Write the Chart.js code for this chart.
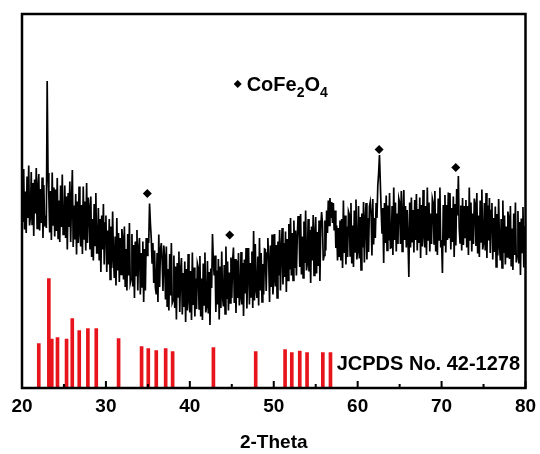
<!DOCTYPE html>
<html>
<head>
<meta charset="utf-8">
<script src="https://cdn.jsdelivr.net/npm/chart.js@4.4.1/dist/chart.umd.min.js"></script>
<style>
    html, body { margin: 0; padding: 0; background: #fff; }
    #wrap { width: 540px; height: 454px; }
</style>
</head>
<body>
<div id="wrap"><canvas id="xrd"></canvas></div>
<script>
// XRD scan, 2-theta from 20 to 80 deg, one reading every 0.1 deg
const scanStart = 20;
const scanStep = 0.1;
const intensity = [
    415, 332, 438, 317, 393, 310, 423, 340, 445, 325, // 20
    342, 432, 327, 410, 304, 417, 349, 440, 319, 402, // 21
    428, 315, 398, 330, 421, 300, 406, 323, 345, 320, // 22
    614, 430, 385, 311, 394, 296, 431, 326, 401, 303, // 23
    397, 314, 420, 299, 375, 292, 405, 322, 427, 307, // 24
    315, 405, 300, 383, 277, 390, 322, 413, 292, 375, // 25
    436, 282, 365, 297, 388, 267, 373, 290, 403, 312, // 26
    283, 366, 268, 403, 298, 373, 275, 410, 290, 381, // 27
    360, 277, 383, 262, 338, 255, 368, 285, 390, 270, // 28
    270, 360, 255, 338, 232, 345, 277, 368, 247, 330, // 29
    345, 232, 315, 247, 338, 217, 323, 240, 353, 262, // 30
    220, 303, 205, 340, 235, 310, 212, 300, 227, 318, // 31
    300, 217, 323, 202, 278, 195, 308, 225, 330, 210, // 32
    218, 308, 203, 286, 180, 293, 225, 316, 195, 278, // 33
    300, 187, 270, 202, 293, 172, 278, 195, 300, 265, // 34
    300, 290, 369, 330, 300, 250, 290, 210, 275, 200, // 35
    187, 270, 172, 307, 202, 277, 290, 255, 194, 285, // 36
    260, 177, 283, 162, 238, 155, 268, 185, 290, 170, // 37
    175, 265, 160, 243, 137, 250, 182, 273, 152, 235, // 38
    260, 147, 230, 162, 253, 132, 238, 155, 268, 177, // 39
    151, 234, 136, 271, 166, 241, 143, 219, 158, 249, // 40
    241, 158, 264, 143, 219, 136, 249, 166, 271, 151, // 41
    164, 254, 149, 232, 126, 239, 200, 308, 255, 225, // 42
    265, 152, 235, 167, 258, 137, 243, 160, 273, 182, // 43
    163, 246, 148, 283, 178, 253, 155, 231, 170, 261, // 44
    180, 255, 281, 170, 258, 150, 255, 180, 270, 165, // 45
    182, 272, 167, 250, 144, 257, 189, 280, 159, 242, // 46
    280, 167, 250, 182, 273, 160, 314, 175, 288, 197, // 47
    180, 263, 165, 300, 195, 270, 172, 248, 187, 278, // 48
    277, 194, 270, 300, 255, 172, 285, 202, 307, 187, // 49
    218, 308, 203, 286, 180, 293, 225, 316, 195, 278, // 50
    320, 207, 290, 222, 313, 192, 298, 215, 328, 237, // 51
    340, 225, 310, 215, 335, 240, 315, 225, 300, 344, // 52
    325, 242, 348, 227, 303, 220, 333, 250, 355, 235, // 53
    248, 338, 233, 316, 210, 323, 255, 346, 225, 308, // 54
    342, 229, 312, 244, 335, 214, 320, 352, 330, 255, // 55
    265, 335, 275, 355, 310, 375, 325, 380, 340, 372, // 56
    330, 370, 315, 355, 280, 325, 255, 320, 262, 335, // 57
    255, 338, 240, 375, 270, 345, 247, 323, 262, 353, // 58
    347, 264, 370, 249, 325, 242, 355, 272, 377, 257, // 59
    274, 364, 259, 342, 236, 349, 281, 372, 251, 334, // 60
    370, 257, 340, 272, 363, 372, 348, 265, 378, 287, // 61
    340, 300, 370, 340, 405, 430, 466, 410, 355, 310, // 62
    360, 250, 370, 290, 385, 275, 365, 295, 390, 280, // 63
    281, 364, 266, 401, 296, 371, 273, 349, 288, 379, // 64
    371, 288, 394, 273, 349, 396, 296, 364, 281, 356, // 65
    296, 222, 371, 281, 381, 291, 356, 271, 376, 296, // 66
    388, 275, 358, 290, 381, 260, 366, 283, 396, 305, // 67
    281, 364, 266, 401, 296, 371, 273, 349, 288, 379, // 68
    371, 288, 394, 273, 349, 266, 379, 296, 401, 281, // 69
    296, 230, 366, 286, 386, 271, 366, 296, 391, 301, // 70
    390, 277, 360, 292, 383, 262, 368, 285, 398, 345, // 71
    424, 320, 290, 365, 275, 380, 286, 364, 301, 376, // 72
    281, 364, 266, 401, 296, 371, 273, 349, 288, 379, // 73
    367, 284, 390, 269, 345, 262, 375, 292, 397, 277, // 74
    290, 370, 275, 390, 260, 365, 295, 380, 270, 355, // 75
    370, 257, 340, 272, 363, 242, 348, 265, 378, 287, // 76
    255, 338, 240, 375, 270, 345, 247, 323, 262, 353, // 77
    341, 258, 364, 243, 319, 236, 349, 266, 371, 251, // 78
    264, 354, 249, 332, 226, 339, 271, 362, 241, 324, // 79
    290 // 80
];

// JCPDS No. 42-1278 reference lines
const refPos = [22.0, 23.2, 23.55, 24.23, 25.31, 25.99, 26.82, 27.85, 28.85, 31.51,
    34.25, 35.05, 36.0, 37.12, 37.95, 42.81, 47.85, 51.35, 52.15, 53.1, 53.97, 55.85, 56.76];
const refInt = [89, 219, 98, 101, 98, 139, 115, 119, 119, 99,
    83, 79, 75, 79, 73, 81, 73, 77, 71, 74, 71, 71, 71];

// CoFe2O4 peak markers
const markPos = [34.93, 44.75, 62.56, 71.69];
const markInt = [389, 306, 477, 441];

const xTicks = [20, 30, 40, 50, 60, 70, 80];
const minorTicks = [25, 35, 45, 55, 65, 75];

const FONT = "'Liberation Sans', Arial, Helvetica, sans-serif";

const scan = intensity.map((v, i) => ({ x: +(scanStart + i * scanStep).toFixed(1), y: v }));
const refBars = refPos.map((x, i) => ({ x: x, y: refInt[i] }));
const marks = markPos.map((x, i) => ({ x: x, y: markInt[i] }));

// frame, inward ticks and text labels
const framePlugin = {
    id: "frame",
    afterDraw(chart) {
        const ctx = chart.ctx;
        const a = chart.chartArea;
        const xs = chart.scales.x;
        ctx.save();
        ctx.strokeStyle = "#000";
        ctx.lineWidth = 2;
        ctx.beginPath();
        xTicks.forEach((v) => {
            const px = xs.getPixelForValue(v);
            ctx.moveTo(px, a.bottom);
            ctx.lineTo(px, a.bottom - 7);
        });
        minorTicks.forEach((v) => {
            const px = xs.getPixelForValue(v);
            ctx.moveTo(px, a.bottom);
            ctx.lineTo(px, a.bottom - 4);
        });
        ctx.stroke();
        ctx.lineWidth = 2.5;
        ctx.strokeRect(a.left, a.top, a.right - a.left, a.bottom - a.top);

        // legend for the marker
        const lx = xs.getPixelForValue(45.7);
        const ly = chart.scales.y.getPixelForValue(608);
        ctx.fillStyle = "#000";
        ctx.beginPath();
        ctx.moveTo(lx, ly - 4);
        ctx.lineTo(lx + 4, ly);
        ctx.lineTo(lx, ly + 4);
        ctx.lineTo(lx - 4, ly);
        ctx.closePath();
        ctx.fill();

        ctx.textBaseline = "alphabetic";
        ctx.textAlign = "left";
        let tx = lx + 9;
        const base = ly + 7;
        const parts = [["CoFe", 20, 0], ["2", 14, 6], ["O", 20, 0], ["4", 14, 6]];
        parts.forEach((p) => {
            ctx.font = "bold " + p[1] + "px " + FONT;
            ctx.fillText(p[0], tx, base + p[2]);
            tx += ctx.measureText(p[0]).width;
        });

        ctx.font = "bold 20px " + FONT;
        ctx.fillText("JCPDS No. 42-1278", xs.getPixelForValue(57.5), a.bottom - 18);
        ctx.restore();
    },
};

const ctx = document.getElementById("xrd").getContext("2d");
new Chart(ctx, {
    type: "line",
    data: {
        datasets: [
            {
                type: "line",
                data: scan,
                borderColor: "#000",
                borderWidth: 1.7,
                pointRadius: 0,
                tension: 0,
                order: 2,
            },
            {
                type: "bar",
                data: refBars,
                backgroundColor: "#e8141c",
                barThickness: 3,
                grouped: false,
                order: 3,
            },
            {
                type: "scatter",
                data: marks,
                pointStyle: "rectRot",
                pointRadius: 4.5,
                backgroundColor: "#000",
                borderColor: "#000",
                borderWidth: 0,
                order: 1,
            },
        ],
    },
    options: {
        responsive: true,
        maintainAspectRatio: false,
        animation: false,
        events: [],
        layout: {
            padding: { left: 22, right: 14.5, top: 14, bottom: 0 },
        },
        plugins: {
            legend: { display: false },
            tooltip: { enabled: false },
        },
        scales: {
            x: {
                type: "linear",
                min: 20,
                max: 80,
                offset: false,
                grid: { display: false, drawTicks: true, tickLength: 7.6 },
                border: { display: false },
                ticks: {
                    stepSize: 10,
                    autoSkip: false,
                    maxRotation: 0,
                    padding: 0,
                    color: "#000",
                    font: { family: FONT, size: 19, weight: "bold" },
                },
                title: {
                    display: true,
                    text: "2-Theta",
                    color: "#000",
                    padding: { top: 12.8, bottom: 0 },
                    font: { family: FONT, size: 19, weight: "bold" },
                },
            },
            y: {
                display: false,
                min: 0,
                max: 748,
            },
        },
    },
    plugins: [framePlugin],
});
</script>
</body>
</html>
